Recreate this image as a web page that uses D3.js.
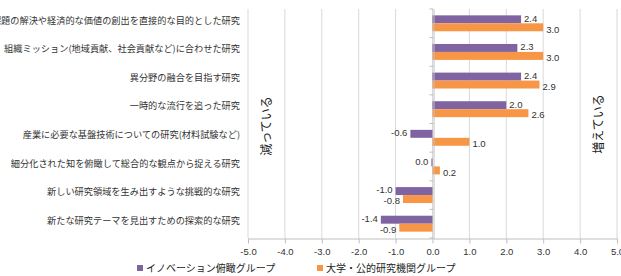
<!DOCTYPE html>
<html>
<head>
<meta charset="utf-8">
<script src="https://cdn.jsdelivr.net/npm/d3@7"></script>
<style>
  body { margin: 0; background: #fff; }
  svg { display: block; font-family: "Noto Sans CJK JP", "Noto Sans", sans-serif; }
</style>
</head>
<body>
<svg id="svg"></svg>
<script>
const categories = [
  '社会的課題の解決や経済的な価値の創出を直接的な目的とした研究',
  '組織ミッション(地域貢献、社会貢献など)に合わせた研究',
  '異分野の融合を目指す研究',
  '一時的な流行を追った研究',
  '産業に必要な基盤技術についての研究(材料試験など)',
  '細分化された知を俯瞰して総合的な観点から捉える研究',
  '新しい研究領域を生み出すような挑戦的な研究',
  '新たな研究テーマを見出すための探索的な研究'
]
const seriesNames = ['イノベーション俯瞰グループ', '大学・公的研究機関グループ']
const innovation = [2.4, 2.3, 2.4, 2.0, -0.6, -0.03, -1.0, -1.4]
const university = [3.0, 3.0, 2.9, 2.6, 1.0, 0.2, -0.8, -0.9]
const xTicks = [-5, -4, -3, -2, -1, 0, 1, 2, 3, 4, 5]
const colors = ['#8064A2', '#F79646']

const w = 621
const h = 276
const plot = { left: 248, right: 617, top: 9, bottom: 238 }

const svg = d3.select('#svg').attr('width', w).attr('height', h)

const x = d3.scaleLinear().domain([-5, 5]).range([plot.left, plot.right])
const y = d3.scaleBand().domain(categories).range([plot.top, plot.bottom])
const sub = d3.scaleBand().domain(seriesNames).range([0, y.bandwidth()]).paddingOuter(0.38 * 2.1)

const fmt = v => {
  let s = d3.format('.1f')(Math.abs(v))
  return (Math.abs(v) < 0.05 ? '' : (v < 0 ? '-' : '')) + s
}

// gridlines
svg.append('g').selectAll('line')
  .data(xTicks)
  .enter().append('line')
  .attr('x1', d => x(d)).attr('x2', d => x(d))
  .attr('y1', plot.top).attr('y2', plot.bottom)
  .attr('stroke', '#d9d9d9').attr('stroke-width', 1)

// x axis
const xAxis = svg.append('g')
  .attr('transform', `translate(0,${plot.bottom + 0.5})`)
  .call(d3.axisBottom(x).tickValues(xTicks).tickFormat(d3.format('.1f')).tickSize(5).tickSizeOuter(0))
xAxis.select('.domain').attr('stroke', '#bfbfbf')
xAxis.selectAll('.tick line').attr('stroke', '#bfbfbf')
xAxis.selectAll('.tick text')
  .attr('fill', '#333').attr('font-size', 9.5)
  .attr('font-family', 'Liberation Sans, Arial, sans-serif')
  .attr('dy', '0.9em')
  .text(d => d3.format('.1f')(d).replace('−', '-'))

// bars
const rows = categories.map((c, i) => ({ c, vals: [innovation[i], university[i]] }))
const groups = svg.append('g').selectAll('g')
  .data(rows)
  .enter().append('g')
  .attr('transform', d => `translate(0,${y(d.c)})`)

seriesNames.forEach((s, si) => {
  groups.append('rect')
    .attr('x', d => x(Math.min(0, d.vals[si])))
    .attr('y', sub(s))
    .attr('width', d => Math.abs(x(d.vals[si]) - x(0)))
    .attr('height', sub.bandwidth())
    .attr('fill', colors[si])

  groups.append('text')
    .attr('x', d => d.vals[si] >= 0 ? x(d.vals[si]) + 3 : x(d.vals[si]) - 3)
    .attr('y', sub(s) + sub.bandwidth() / 2 + (si === 0 ? -1 : 2))
    .attr('dy', '0.35em')
    .attr('text-anchor', d => d.vals[si] >= 0 ? 'start' : 'end')
    .attr('font-size', 9.5)
    .attr('font-family', 'Liberation Sans, Arial, sans-serif')
    .attr('fill', '#333')
    .text(d => fmt(d.vals[si]))
})

// category axis at zero
const yAxis = svg.append('g')
  .attr('transform', `translate(${Math.round(x(0)) + 0.5},0)`)
  .call(d3.axisLeft(y).tickSize(0).tickSizeOuter(0).tickFormat(''))
yAxis.select('.domain').attr('stroke', '#bfbfbf')
yAxis.selectAll('.bd')
  .data(d3.range(categories.length + 1))
  .enter().append('line')
  .attr('x1', -4).attr('x2', 0)
  .attr('y1', i => plot.top + i * y.step()).attr('y2', i => plot.top + i * y.step())
  .attr('stroke', '#bfbfbf')

// category labels
svg.append('g').selectAll('text')
  .data(categories)
  .enter().append('text')
  .attr('x', 240)
  .attr('y', d => y(d) + y.bandwidth() / 2 - 3)
  .attr('dy', '0.35em')
  .attr('text-anchor', 'end')
  .attr('font-size', 9.2)
  .attr('fill', '#333')
  .text(d => d)

// side notes
const note = (txt, cx, cy) => svg.append('text')
  .attr('transform', `translate(${cx},${cy}) rotate(-90)`)
  .attr('text-anchor', 'middle')
  .attr('dy', '0.35em')
  .attr('font-size', 12)
  .attr('fill', '#222')
  .text(txt)
note('減っている', 267, 126)
note('増えている', 599, 124)

// legend
const legendX = [137, 317]
const legend = svg.append('g').selectAll('g')
  .data(seriesNames)
  .enter().append('g')
  .attr('transform', (d, i) => `translate(${legendX[i]},268)`)
legend.append('rect')
  .attr('x', 0).attr('y', -3).attr('width', 6).attr('height', 6)
  .attr('fill', (d, i) => colors[i])
legend.append('text')
  .attr('x', 9).attr('dy', '0.35em')
  .attr('font-size', 10).attr('fill', '#222')
  .text(d => d)
</script>
</body>
</html>
